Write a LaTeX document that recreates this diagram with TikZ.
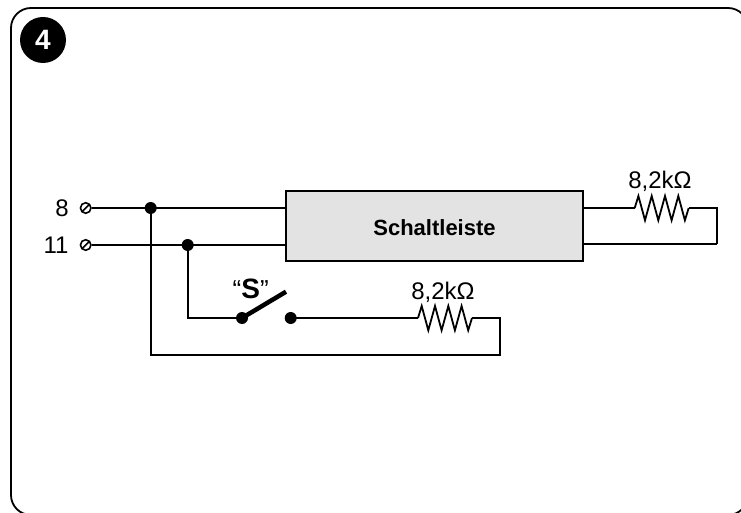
\documentclass[tikz,border=0pt]{standalone}
\usepackage{fontspec}
\setmainfont{Liberation Sans}
\usepackage{tikz}
\usetikzlibrary{arrows,positioning,calc}

\newcommand{\zigpath}{-- ++(3.7,-12) -- ++(6.6,24.3) -- ++(6.7,-24.3) -- ++(6.6,24.3) -- ++(6.7,-24.3) -- ++(6.6,24.3) -- ++(6.7,-24.3) -- ++(6.6,24.3)}

\begin{document}
\begin{tikzpicture}[x=1pt,y=-1pt,line width=1.8pt,
                junction/.style={circle,fill=black,inner sep=0pt,outer sep=0pt,minimum size=12pt},
                terminal/.style={circle,draw,fill=white,inner sep=0pt,minimum size=10.5pt,line width=1.6pt,
                  path picture={\draw[line width=1.6pt] (path picture bounding box.south west) -- (path picture bounding box.north east);}},
                label/.style={font=\fontsize{24}{28}\selectfont,inner sep=0pt},
                badge/.style={circle,fill=black,text=white,inner sep=0pt,minimum size=46pt,font=\fontsize{28}{30}\selectfont\bfseries},
                strip/.style={draw,fill=black!11,line width=2pt,inner sep=0pt,minimum width=297.6pt,minimum height=69pt,font=\fontsize{22}{26}\selectfont\bfseries}]
  \useasboundingbox (0,0) rectangle (741,513);
  \clip (0,0) rectangle (741,513);
  \draw[rounded corners=20pt] (11,8) rectangle (748,515);

  \node[badge] (4) at (43,40) {4};

  \node[terminal] (t8) at (85.7,208) {};
  \node[terminal] (t11) [node distance=37pt,below of=t8] {};
  \node[label] (l8) [node distance=23.7pt,left of=t8] {8};
  \node[label] (l11) [node distance=29.7pt,left of=t11] {11};
  \node[junction] (ja) [node distance=65pt,right of=t8] {};
  \node[junction] (jb) [node distance=102pt,right of=t11] {};
  \node[strip] (box) at (434.5,226) {\raisebox{-1pt}[16pt][0pt]{Schaltleiste}};

  \node[junction] (s1) at (242,318) {};
  \node[junction] (s2) [node distance=48.7pt,right of=s1] {};
  \coordinate (tip) at (286,291.7);
  \node[label] (S) at (250.7,289) {\fontsize{26}{28}\selectfont“\fontsize{28}{28}\selectfont\bfseries S\fontsize{26}{28}\selectfont\mdseries”};

  \coordinate (r2l) at (418,318);
  \coordinate (r2r) at (472,318);
  \coordinate (c2) at (500,355);
  \node[label] (v2) at (443,292) {8,2kΩ};

  \coordinate (r1l) at (634.7,208);
  \coordinate (r1r) at (688.7,208);
  \coordinate (c1) at (716.7,244);
  \node[label] (v1) at (660,181.7) {8,2kΩ};

  \path[draw]
    (t8) edge (ja.center)
    (ja.center) edge (ja -| box.west)
    (t11) edge (jb.center)
    (jb.center) edge (jb -| box.west)
    (jb.center) edge [to path={|- (\tikztotarget)}] (s1.center)
    (s1.center) edge [line width=4.5pt] (tip)
    (s2.center) edge (r2l)
    (r1l -| box.east) edge (r1l)
    (c1 -| box.east) edge (c1)
  ;
  \draw (ja.center) |- (c2) |- (r2r);
  \draw (c1) |- (r1r);
  \draw (r2l) \zigpath -- (r2r);
  \draw (r1l) \zigpath -- (r1r);
\end{tikzpicture}
\end{document}
